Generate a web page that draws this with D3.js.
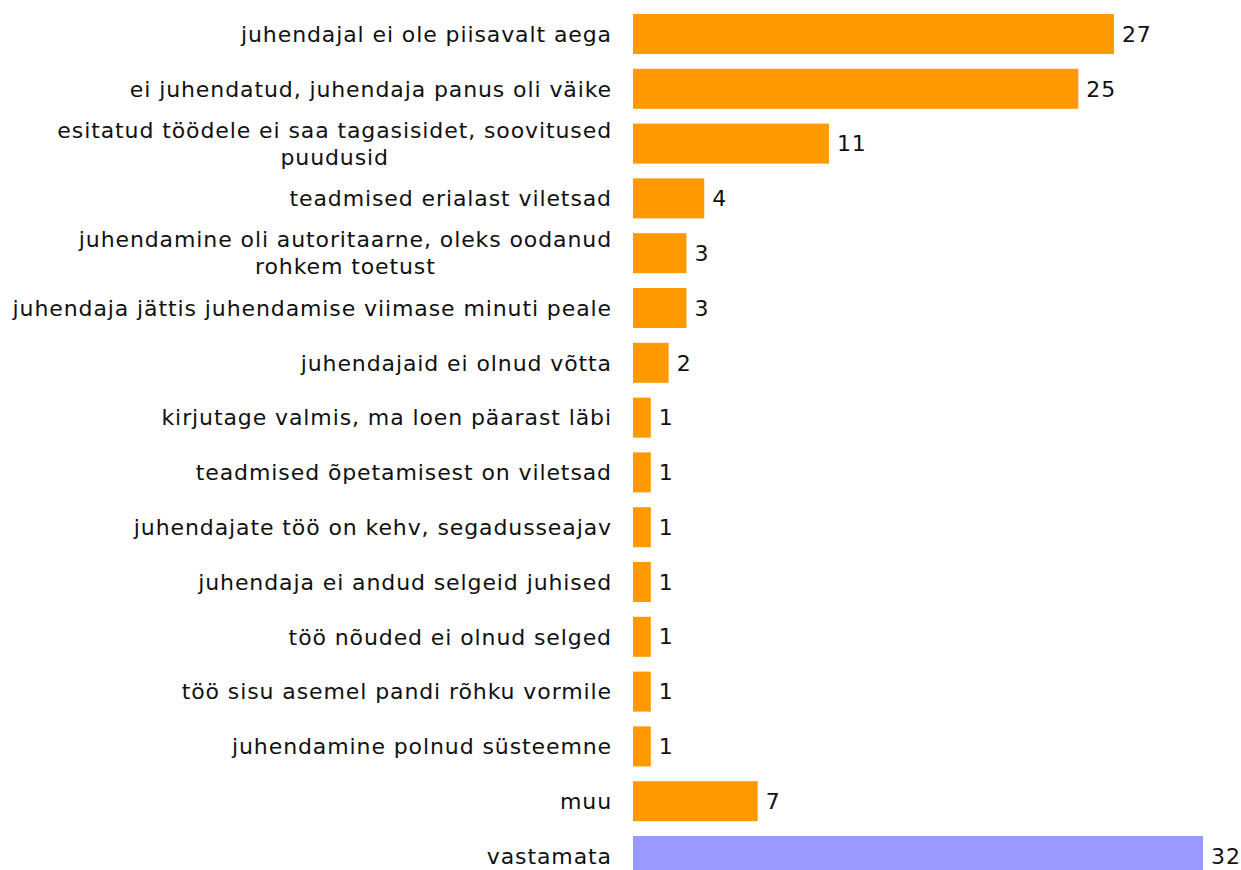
<!DOCTYPE html>
<html>
<head>
<meta charset="utf-8">
<script src="https://cdn.jsdelivr.net/npm/d3@7"></script>
<style>
  body { margin: 0; background: #fff; }
  text { font-family: "DejaVu Sans", Verdana, sans-serif; font-size: 22px; letter-spacing: 0.9px; fill: #111; }
</style>
</head>
<body>
<script>
'use strict';

// answer categories, top to bottom
const categories = [
  ["juhendajal ei ole piisavalt aega"],
  ["ei juhendatud, juhendaja panus oli väike"],
  ["esitatud töödele ei saa tagasisidet, soovitused", "puudusid"],
  ["teadmised erialast viletsad"],
  ["juhendamine oli autoritaarne, oleks oodanud", "rohkem toetust"],
  ["juhendaja jättis juhendamise viimase minuti peale"],
  ["juhendajaid ei olnud võtta"],
  ["kirjutage valmis, ma loen päarast läbi"],
  ["teadmised õpetamisest on viletsad"],
  ["juhendajate töö on kehv, segadusseajav"],
  ["juhendaja ei andud selgeid juhised"],
  ["töö nõuded ei olnud selged"],
  ["töö sisu asemel pandi rõhku vormile"],
  ["juhendamine polnud süsteemne"],
  ["muu"],
  ["vastamata"]
];
const counts = [27, 25, 11, 4, 3, 3, 2, 1, 1, 1, 1, 1, 1, 1, 7, 32];
const isMissing = [false, false, false, false, false, false, false, false, false, false, false, false, false, false, false, true];

const width = 1241, height = 870;

const svg = d3.select("body").append("svg")
  .attr("width", width)
  .attr("height", height);

const rows = categories.map((c, i) => ({ label: c, value: counts[i], missing: isMissing[i], key: i }));

let x = d3.scaleLinear()
  .domain([0, 32])
  .range([633, 1203]);

let y = d3.scaleBand()
  .domain(rows.map(d => d.key))
  .range([14, 876])
  .paddingInner(0.27)
  .paddingOuter(0);

const g = svg.append("g");

g.selectAll("rect.bar")
  .data(rows)
  .enter()
  .append("rect")
  .attr("class", "bar")
  .attr("x", x(0))
  .attr("y", d => y(d.key))
  .attr("width", d => x(d.value) - x(0))
  .attr("height", y.bandwidth())
  .attr("fill", d => d.missing ? "#9999ff" : "#ff9900");

// value labels right of bars
g.selectAll("text.val")
  .data(rows)
  .enter()
  .append("text")
  .attr("class", "val")
  .attr("x", d => x(d.value) + 8)
  .attr("y", d => y(d.key) + y.bandwidth() / 2)
  .attr("dy", "0.35em")
  .text(d => d.value);

// category labels, multi line ones centred on their widest line
const lineH = 27;
const labels = g.selectAll("g.lab")
  .data(rows)
  .enter()
  .append("g")
  .attr("class", "lab")
  .attr("transform", d => `translate(0,${y(d.key) + y.bandwidth() / 2})`);

labels.each(function (d) {
  const sel = d3.select(this);
  const n = d.label.length;
  const texts = d.label.map((line, i) => sel.append("text")
    .attr("y", (i - (n - 1) / 2) * lineH)
    .attr("dy", "0.35em")
    .text(line));
  if (n === 1) {
    texts[0].attr("x", 612).attr("text-anchor", "end");
  } else {
    const widths = texts.map(t => t.node().getComputedTextLength());
    const maxW = d3.max(widths);
    const cx = 612 - maxW / 2;
    texts.forEach(t => t.attr("x", cx).attr("text-anchor", "middle"));
  }
});
</script>
</body>
</html>
